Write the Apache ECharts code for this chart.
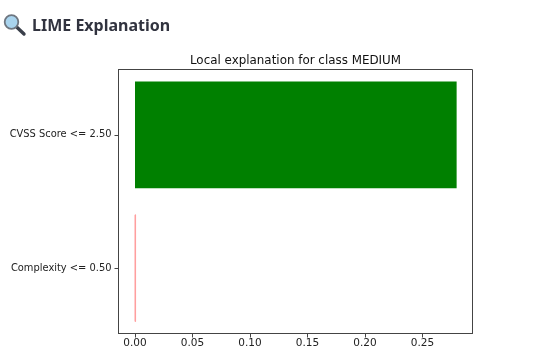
<!DOCTYPE html>
<html><head><meta charset="utf-8">
<style>html,body{margin:0;padding:0;background:#fff}#c{width:539px;height:359px}</style>
<script src="https://cdn.jsdelivr.net/npm/echarts@6/dist/echarts.min.js"></script>
</head><body><div id="c"></div>
<script>
const categories = ['Complexity <= 0.50', 'CVSS Score <= 2.50'];
const values = [0.0005, 0.2797];
const barColors = ['#ff9e9e', '#008000'];
const xTicks = [0, 0.05, 0.10, 0.15, 0.20, 0.25];
const yTicks = [0, 1];
const pageTitle = 'LIME Explanation';
const chartTitle = 'Local explanation for class MEDIUM';

const axisColor = '#444';
const chart = echarts.init(document.getElementById('c'), null, {renderer:'canvas'});
chart.setOption({
  animation:false,
  backgroundColor:'#fff',
  title:[
    {text:pageTitle,left:27,top:13,textStyle:{fontFamily:'Noto Sans',fontSize:16,fontWeight:700,color:'#31333F'}},
    {text:chartTitle,left:290.5,top:50,textAlign:'center',textStyle:{fontFamily:'DejaVu Sans',fontSize:11.9,fontWeight:'normal',color:'#111'}}
  ],
  graphic:[
    {type:'line',shape:{x1:14.5,y1:25,x2:24,y2:34},style:{stroke:'#3a3f4a',lineWidth:3.4,lineCap:'round'},z:10},
    {type:'circle',shape:{cx:11.5,cy:22,r:6.8},style:{fill:'#a9d4ee',stroke:'#6e7680',lineWidth:1.8},z:11}
  ],
  grid:{left:118.5,top:69.5,width:354,height:264,show:true,borderColor:axisColor,borderWidth:1,backgroundColor:'#fff'},
  xAxis:{type:'value',min:-0.01435,max:0.2935,splitLine:{show:false},
    axisLine:{show:true,onZero:false,lineStyle:{color:axisColor}},
    axisTick:{show:true,length:4,customValues:xTicks,lineStyle:{color:axisColor}},
    axisLabel:{customValues:xTicks,margin:4,fontFamily:'DejaVu Sans',fontSize:10.5,color:'#222',formatter:v=>v.toFixed(2)}},
  yAxis:{type:'value',min:-0.49,max:1.49,splitLine:{show:false},
    axisLine:{show:true,onZero:false,lineStyle:{color:axisColor}},
    axisTick:{show:true,length:4,customValues:yTicks,lineStyle:{color:axisColor}},
    axisLabel:{customValues:yTicks,margin:7,padding:[2,0,0,0],fontFamily:'DejaVu Sans',fontSize:9.9,color:'#222',formatter:v=>categories[Math.round(v)]}},
  series:[{
    type:'custom',
    encode:{x:1,y:0},
    data:values.map((v,i)=>[i,v]),
    clip:true,
    renderItem(params,api){
      const i=api.value(0), v=api.value(1);
      const a=api.coord([0,i+0.4]), b=api.coord([v,i-0.4]);
      const w=b[0]-a[0], c=barColors[i];
      return {type:'rect',shape:{x:a[0],y:a[1],width:w,height:b[1]-a[1]},
        style:{fill:c,stroke:w<1?c:null,lineWidth:w<1?1:0}};
    }
  }]
});
</script></body></html>
